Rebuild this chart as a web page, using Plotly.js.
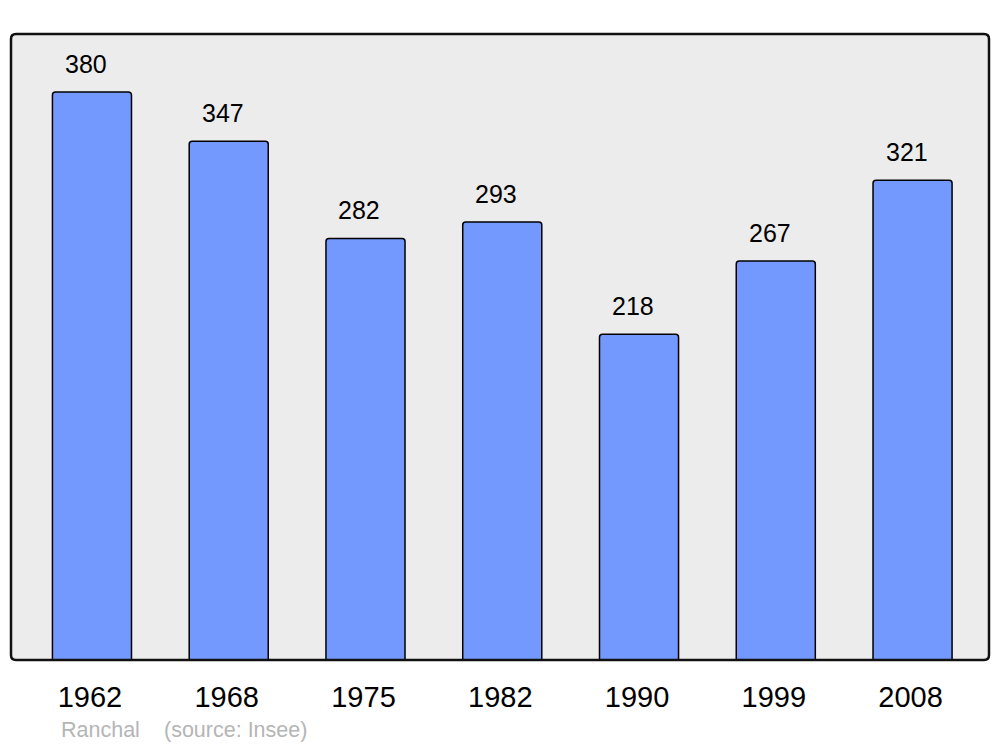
<!DOCTYPE html>
<html>
<head>
<meta charset="utf-8">
<script src="https://cdn.plot.ly/plotly-3.0.1.min.js"></script>
<style>html,body{margin:0;padding:0;background:#fff;}#chart{width:1000px;height:747px;}</style>
</head>
<body>
<div id="chart"></div>
<script>
const years = ["1962", "1968", "1975", "1982", "1990", "1999", "2008"];
const population = [380, 347, 282, 293, 218, 267, 321];
const footerName = "Ranchal";
const footerSource = "(source: Insee)";

const xIdx = years.map((_, i) => i);

const trace = {
  type: 'bar',
  x: xIdx,
  y: population,
  width: 0.578,
  marker: {color: '#7399ff', line: {color: '#000', width: 1.5}, cornerradius: 3},
  hoverinfo: 'skip'
};

const labelAnn = population.map((v, i) => ({
  x: i, y: v, xref: 'x', yref: 'y',
  text: String(v), showarrow: false,
  xshift: -6, yshift: 28,
  font: {family: 'Liberation Sans, Arial, sans-serif', size: 25, color: '#000'}
}));

const W = 978, H = 626, r = 5;
const rx = r / W, ry = r / H;
const framePath = `M ${rx},0 L ${1-rx},0 Q 1,0 1,${ry} L 1,${1-ry} Q 1,1 ${1-rx},1 L ${rx},1 Q 0,1 0,${1-ry} L 0,${ry} Q 0,0 ${rx},0 Z`;

const footFont = {family: 'Liberation Sans, Arial, sans-serif', size: 21.5, color: '#b5b5b5'};

const layout = {
  width: 1000, height: 747,
  margin: {l: 11, r: 11, t: 34, b: 87},
  paper_bgcolor: '#fff',
  plot_bgcolor: '#ececec',
  showlegend: false,
  xaxis: {
    range: [-0.592, 6.559],
    tickvals: xIdx, ticktext: years,
    ticks: 'outside', ticklen: 11, tickcolor: 'rgba(0,0,0,0)',
    ticklabelshift: -2,
    showgrid: false, zeroline: false, showline: false,
    tickfont: {family: 'Liberation Sans, Arial, sans-serif', size: 29, color: '#000'},
    fixedrange: true
  },
  yaxis: {
    range: [0, 418.8],
    visible: false, showgrid: false, zeroline: false, fixedrange: true
  },
  shapes: [{
    type: 'path', xref: 'paper', yref: 'paper', path: framePath,
    line: {color: '#111', width: 2.5}, fillcolor: 'rgba(0,0,0,0)', layer: 'above'
  }],
  annotations: labelAnn.concat([{
    xref: 'paper', yref: 'paper', x: 48/978, y: -70/626,
    xanchor: 'left', yanchor: 'middle', showarrow: false,
    text: footerName, font: footFont
  }, {
    xref: 'paper', yref: 'paper', x: 151/978, y: -70/626,
    xanchor: 'left', yanchor: 'middle', showarrow: false,
    text: footerSource, font: footFont
  }])
};

Plotly.newPlot('chart', [trace], layout, {displayModeBar: false, staticPlot: true});
</script>
</body>
</html>
